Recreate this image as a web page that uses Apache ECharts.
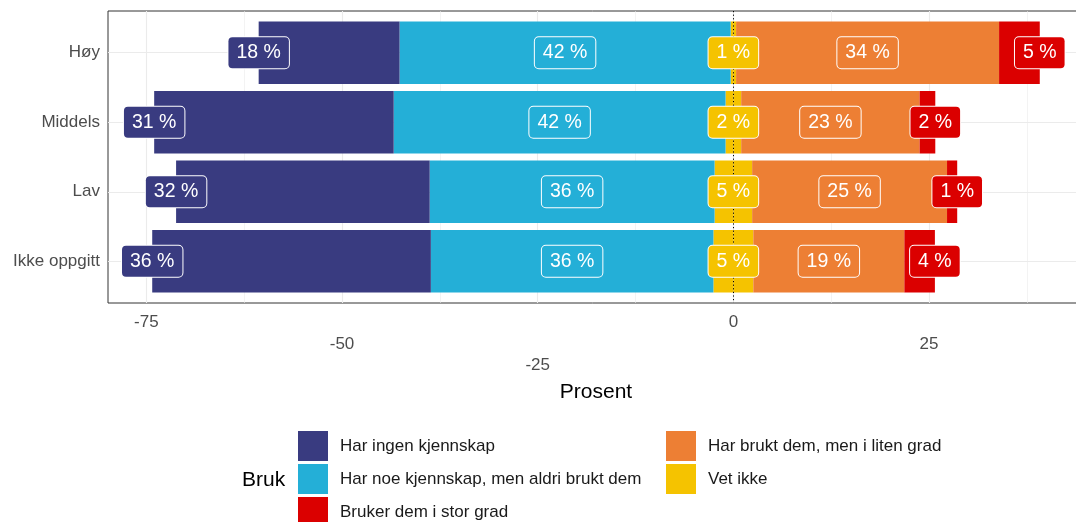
<!DOCTYPE html>
<html>
<head>
<meta charset="utf-8">
<script src="https://cdn.jsdelivr.net/npm/echarts@6/dist/echarts.min.js"></script>
<style>
html, body { margin: 0; padding: 0; background: #fff; }
#chart { width: 1076px; height: 522px; }
</style>
</head>
<body>
<div id="chart"></div>
<script>
// kategorier, ovenfra og ned
const kategorier = ['Høy', 'Middels', 'Lav', 'Ikke oppgitt']

// prosent per svaralternativ (lest av figuren)
const harIngen = [18.0, 30.6, 32.4, 35.6]
const harNoe = [42.3, 42.4, 36.4, 36.1]
const vetIkke = [0.7, 2.0, 4.8, 5.1]
const litenGrad = [33.6, 22.8, 24.9, 19.3]
const storGrad = [5.2, 2.0, 1.3, 3.9]

// akse
const xTicks = [-75, -50, -25, 0, 25]
const xMinor = [-62.5, -37.5, -12.5, 12.5, 37.5]

const navn = {
    ingen: 'Har ingen kjennskap',
    noe: 'Har noe kjennskap, men aldri brukt dem',
    stor: 'Bruker dem i stor grad',
    liten: 'Har brukt dem, men i liten grad',
    vet: 'Vet ikke'
}
const farger = {
    ingen: '#393b80',
    noe: '#24afd7',
    stor: '#db0000',
    liten: '#ed7f34',
    vet: '#f5c300'
}

const xMin = -79.9
const xMax = 44.8
const font = '"Liberation Sans", Arial, sans-serif'

function bar(key, values) {
    return {
        name: navn[key],
        type: 'bar',
        stack: 'total',
        barWidth: '90%',
        z: 2,
        itemStyle: { color: farger[key] },
        data: values
    }
}

// etiketter som scatter-punkter med label
function etiketter(key, xs, pcts) {
    return {
        type: 'scatter',
        symbolSize: 0,
        z: 5,
        silent: true,
        itemStyle: { opacity: 1 },
        data: xs.map((x, i) => [x, i, pcts[i]]),
        label: {
            show: true,
            position: 'inside',
            formatter: p => Math.round(p.value[2]) + ' %',
            color: '#fff',
            opacity: 1,
            fontSize: 19.5,
            lineHeight: 21,
            fontFamily: font,
            backgroundColor: farger[key],
            borderColor: '#fff',
            borderWidth: 1,
            borderRadius: 4,
            padding: [5, 8, 5, 8]
        }
    }
}

function legende(data, left, top) {
    return {
        data: data,
        orient: 'vertical',
        left: left,
        top: top,
        padding: 0,
        itemWidth: 30,
        itemHeight: 30,
        itemGap: 3,
        icon: 'rect',
        selectedMode: false,
        textStyle: { fontSize: 17, color: '#1a1a1a', padding: [0, 0, 0, 7], fontFamily: font }
    }
}

const halv = vetIkke.map(v => v / 2)
const xIngen = harIngen.map((v, i) => -(halv[i] + harNoe[i] + v))
const xNoe = harNoe.map((v, i) => -(halv[i] + v / 2))
const xVet = vetIkke.map(() => 0)
const xLiten = litenGrad.map((v, i) => halv[i] + v / 2)
const xStor = storGrad.map((v, i) => halv[i] + litenGrad[i] + v)

const chart = echarts.init(document.getElementById('chart'))
const options = {
    animation: false,
    textStyle: { fontFamily: font },
    title: {
        text: 'Bruk',
        left: 242,
        top: 470,
        padding: 0,
        textStyle: { fontSize: 21, fontWeight: 'normal', color: '#000', fontFamily: font }
    },
    legend: [
        legende([navn.ingen, navn.noe], 298, 431),
        legende([navn.stor], 298, 497),
        legende([navn.liten, navn.vet], 666, 431)
    ],
    grid: [
        // stolpene
        { left: 108, top: 18, width: 976, height: 278, outerBoundsMode: 'none' },
        // rammen / panelet (går litt utenfor bildet til høyre)
        { left: 108, top: 11, width: 976, height: 292, outerBoundsMode: 'none', show: true, borderColor: '#333', borderWidth: 1, backgroundColor: 'transparent' }
    ],
    xAxis: [
        { type: 'value', gridIndex: 0, min: xMin, max: xMax, show: false },
        {
            type: 'value',
            gridIndex: 1,
            min: xMin,
            max: xMax,
            name: 'Prosent',
            nameLocation: 'middle',
            nameGap: 73,
            nameTextStyle: { fontSize: 21, color: '#000', fontFamily: font },
            axisLine: { show: false },
            axisTick: { show: true, length: 4, customValues: xTicks, lineStyle: { color: '#333' } },
            splitLine: { show: false },
            axisLabel: {
                customValues: xTicks,
                color: '#4d4d4d',
                fontSize: 17,
                lineHeight: 21.5,
                margin: 9,
                fontFamily: font,
                // tre rader, som n.dodge = 3
                formatter: v => '\n'.repeat(xTicks.indexOf(v) % 3) + v
            }
        }
    ],
    yAxis: [
        {
            type: 'category',
            gridIndex: 0,
            data: kategorier,
            inverse: true,
            axisLine: { show: false },
            axisTick: { show: true, alignWithLabel: true, length: 5, lineStyle: { color: '#333' } },
            splitLine: { show: false },
            axisLabel: { color: '#4d4d4d', fontSize: 17, margin: 8, fontFamily: font }
        },
        { type: 'value', gridIndex: 1, min: -0.6, max: 3.6, inverse: true, show: false }
    ],
    series: [
        // rutenett
        {
            type: 'line',
            xAxisIndex: 1,
            yAxisIndex: 1,
            data: [],
            silent: true,
            markLine: {
                silent: true,
                symbol: 'none',
                z: 1,
                label: { show: false },
                data: [
                    ...xTicks.map(v => ({ xAxis: v, lineStyle: { color: '#ebebeb', width: 1.1, type: 'solid' } })),
                    ...xMinor.map(v => ({ xAxis: v, lineStyle: { color: '#ebebeb', width: 0.6, type: 'solid' } })),
                    ...kategorier.map((c, i) => ({ yAxis: i, lineStyle: { color: '#ebebeb', width: 1.1, type: 'solid' } }))
                ]
            }
        },
        bar('vet', halv.map(v => -v)),
        bar('noe', harNoe.map(v => -v)),
        bar('ingen', harIngen.map(v => -v)),
        bar('vet', halv),
        bar('liten', litenGrad),
        bar('stor', storGrad),
        // nullinje
        {
            type: 'line',
            xAxisIndex: 1,
            yAxisIndex: 1,
            data: [],
            silent: true,
            markLine: {
                silent: true,
                symbol: 'none',
                z: 4,
                label: { show: false },
                data: [{ xAxis: 0, lineStyle: { color: '#000', width: 1, type: [1.2, 2.4] } }]
            }
        },
        etiketter('ingen', xIngen, harIngen),
        etiketter('noe', xNoe, harNoe),
        etiketter('vet', xVet, vetIkke),
        etiketter('liten', xLiten, litenGrad),
        etiketter('stor', xStor, storGrad)
    ]
}
chart.setOption(options)
</script>
</body>
</html>
